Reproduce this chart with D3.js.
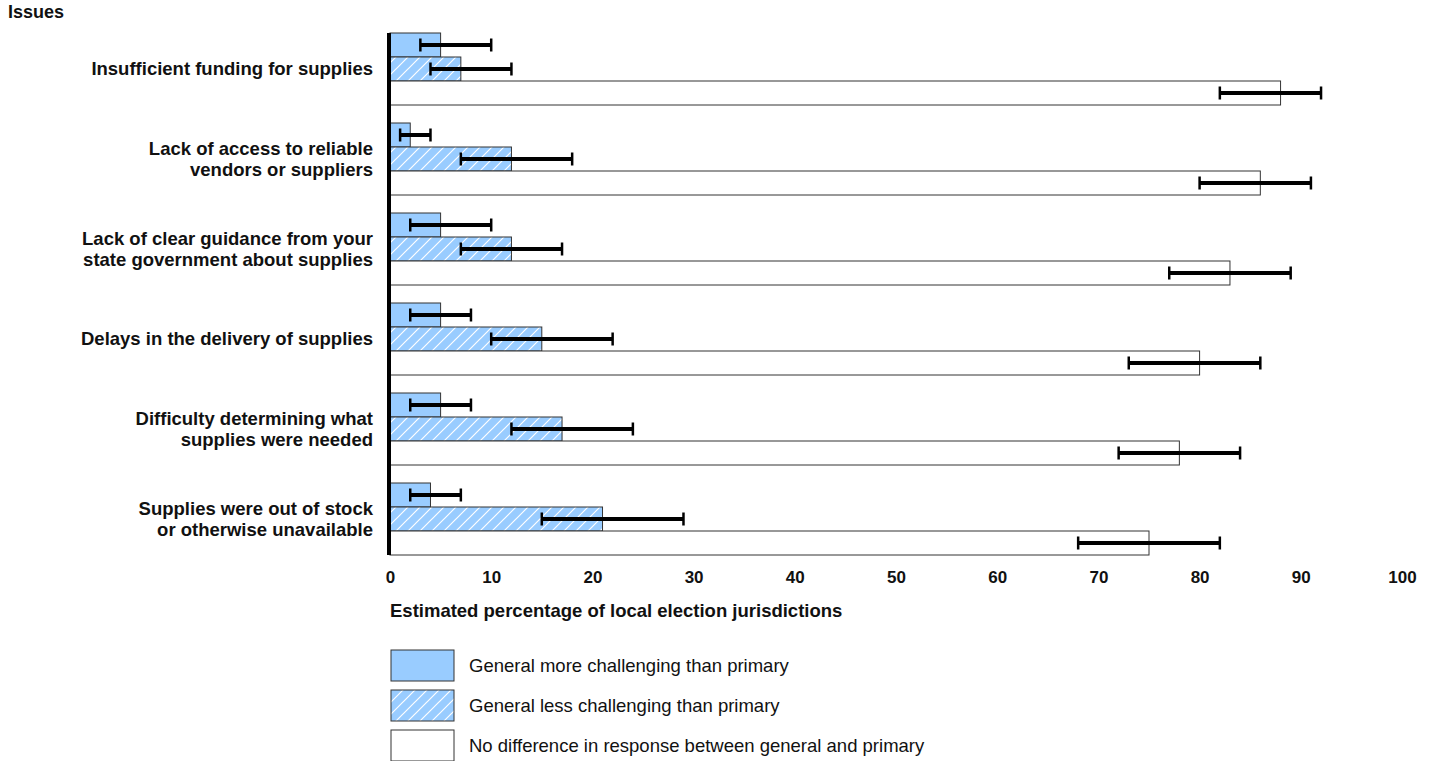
<!DOCTYPE html>
<html>
<head>
<meta charset="utf-8">
<script src="https://cdn.jsdelivr.net/npm/d3@7"></script>
<style>
  body { margin: 0; background: #fff; }
  svg { display: block; font-family: "Liberation Sans", Arial, sans-serif; }
</style>
</head>
<body>
<svg id="chart" width="1439" height="761"></svg>
<script>
// Issues (each label split into display lines)
const categories = [
  ["Insufficient funding for supplies"],
  ["Lack of access to reliable", "vendors or suppliers"],
  ["Lack of clear guidance from your", "state government about supplies"],
  ["Delays in the delivery of supplies"],
  ["Difficulty determining what", "supplies were needed"],
  ["Supplies were out of stock", "or otherwise unavailable"]
];

const seriesNames = [
  "General more challenging than primary",
  "General less challenging than primary",
  "No difference in response between general and primary"
];

// Estimated percentages per series
const moreChallenging = [5, 2, 5, 5, 5, 4];
const lessChallenging = [7, 12, 12, 15, 17, 21];
const noDifference    = [88, 86, 83, 80, 78, 75];

// Confidence intervals (low, high) per series
const moreLow  = [3, 1, 2, 2, 2, 2];
const moreHigh = [10, 4, 10, 8, 8, 7];
const lessLow  = [4, 7, 7, 10, 12, 15];
const lessHigh = [12, 18, 17, 22, 24, 29];
const noDiffLow  = [82, 80, 77, 73, 72, 68];
const noDiffHigh = [92, 91, 89, 86, 84, 82];

const xTicks = [0, 10, 20, 30, 40, 50, 60, 70, 80, 90, 100];

const seriesValues = [moreChallenging, lessChallenging, noDifference];
const seriesLow = [moreLow, lessLow, noDiffLow];
const seriesHigh = [moreHigh, lessHigh, noDiffHigh];

const svg = d3.select("#chart");

const defs = svg.append("defs");
const pat = defs.append("pattern")
  .attr("id", "hatch")
  .attr("patternUnits", "userSpaceOnUse")
  .attr("width", 12).attr("height", 12);
pat.append("rect").attr("width", 12).attr("height", 12).attr("fill", "#99ccff");
pat.append("path")
  .attr("d", "M-3,15 L15,-3 M-3,3 L3,-3 M9,15 L15,9")
  .attr("stroke", "#ffffff").attr("stroke-width", 1.2);

const fills = ["#99ccff", "url(#hatch)", "#ffffff"];

const groupIdx = d3.range(categories.length);
const x = d3.scaleLinear().domain([0, 100]).range([390, 1402]);
const y = d3.scaleBand().domain(groupIdx).range([24, 564]).paddingInner(0.2).paddingOuter(0.1);
const ys = d3.scaleBand().domain([0, 1, 2]).range([0, y.bandwidth()]);

// Bars
const groups = svg.append("g").selectAll("g")
  .data(groupIdx).join("g")
  .attr("transform", i => `translate(0,${y(i)})`);

groups.selectAll("rect")
  .data(i => [0, 1, 2].map(s => ({ s, v: seriesValues[s][i] })))
  .join("rect")
  .attr("x", x(0))
  .attr("y", d => ys(d.s))
  .attr("width", d => x(d.v) - x(0))
  .attr("height", ys.bandwidth())
  .attr("fill", d => fills[d.s])
  .attr("stroke", "#333")
  .attr("stroke-width", 1);

// Error bars
const capH = 13;
const err = groups.selectAll("g.err")
  .data(i => [0, 1, 2].map(s => ({ s, lo: seriesLow[s][i], hi: seriesHigh[s][i] })))
  .join("g").attr("class", "err")
  .attr("transform", d => `translate(0,${ys(d.s) + ys.bandwidth() / 2})`);
err.append("line")
  .attr("x1", d => x(d.lo)).attr("x2", d => x(d.hi))
  .attr("stroke", "#000").attr("stroke-width", 4);
err.append("line")
  .attr("x1", d => x(d.lo)).attr("x2", d => x(d.lo))
  .attr("y1", -capH / 2).attr("y2", capH / 2)
  .attr("stroke", "#000").attr("stroke-width", 2.5);
err.append("line")
  .attr("x1", d => x(d.hi)).attr("x2", d => x(d.hi))
  .attr("y1", -capH / 2).attr("y2", capH / 2)
  .attr("stroke", "#000").attr("stroke-width", 2.5);

// Vertical baseline
svg.append("line")
  .attr("x1", x(0) - 1).attr("x2", x(0) - 1)
  .attr("y1", y(0)).attr("y2", y(groupIdx.length - 1) + y.bandwidth())
  .attr("stroke", "#000").attr("stroke-width", 4);

// Category labels
const lineH = 21;
svg.append("g").selectAll("text")
  .data(groupIdx).join("text")
  .attr("x", 373)
  .attr("y", i => y(i) + y.bandwidth() / 2 - (categories[i].length - 1) * lineH / 2)
  .attr("text-anchor", "end")
  .attr("font-size", 18.5).attr("font-weight", "bold").attr("fill", "#111")
  .selectAll("tspan")
  .data(i => categories[i])
  .join("tspan")
  .attr("x", 373)
  .attr("dy", (d, k) => k === 0 ? "0.33em" : lineH)
  .text(d => d);

svg.append("text")
  .attr("x", 8).attr("y", 18)
  .attr("font-size", 18).attr("font-weight", "bold").attr("fill", "#111")
  .text("Issues");

// X axis
const xAxis = svg.append("g")
  .attr("transform", "translate(0,566)")
  .call(d3.axisBottom(x).tickValues(xTicks).tickSize(0).tickPadding(5));
xAxis.select(".domain").remove();
xAxis.selectAll("text")
  .attr("font-size", 17).attr("font-weight", "bold").attr("fill", "#111")
  .attr("font-family", "Liberation Sans, Arial, sans-serif");

svg.append("text")
  .attr("x", 390).attr("y", 617)
  .attr("font-size", 18.5).attr("font-weight", "bold").attr("fill", "#111")
  .text("Estimated percentage of local election jurisdictions");

// Legend
const legend = svg.append("g").selectAll("g")
  .data([0, 1, 2]).join("g")
  .attr("transform", s => `translate(391,${650 + s * 40})`);
legend.append("rect")
  .attr("width", 63).attr("height", 31)
  .attr("fill", s => fills[s])
  .attr("stroke", "#333").attr("stroke-width", 1);
legend.append("text")
  .attr("x", 78).attr("y", 16).attr("dy", "0.35em")
  .attr("font-size", 18.5).attr("fill", "#111")
  .text(s => seriesNames[s]);
</script>
</body>
</html>
